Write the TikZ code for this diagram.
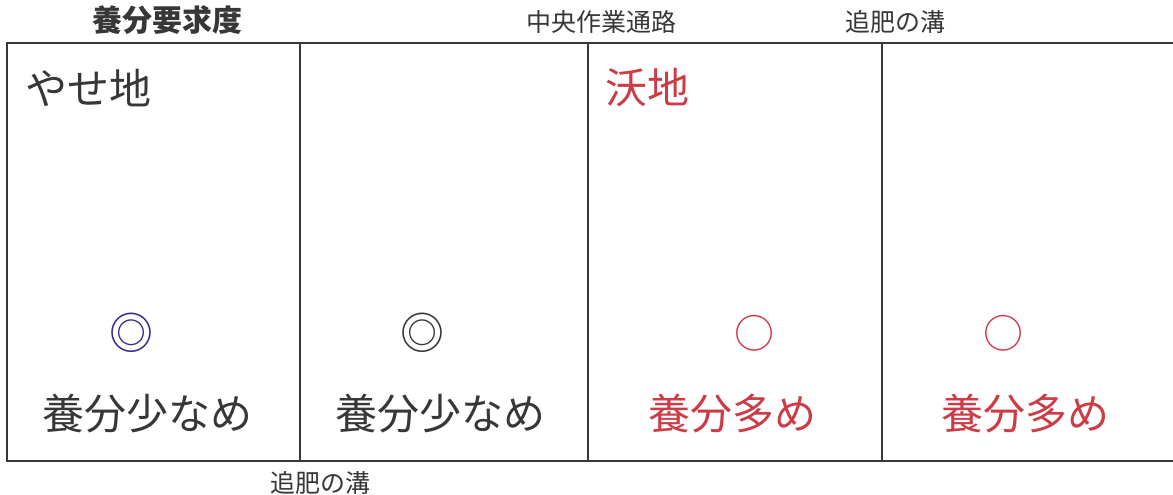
\documentclass[tikz,border=0pt]{standalone}
\usepackage{fontspec}
\newfontfamily\jp{Noto Sans CJK JP}
\definecolor{ink}{RGB}{55,55,55}
\definecolor{redink}{RGB}{205,60,70}
\definecolor{navy}{RGB}{55,45,135}
\begin{document}
\begin{tikzpicture}[x=1pt,y=-1pt,
  lbl/.style={inner sep=0pt,font=\jp,text=ink},
  big/.style={lbl,font=\jp\fontsize{42}{44}\selectfont},
  mid/.style={lbl,font=\jp\fontsize{42}{44}\selectfont},
  small/.style={lbl,font=\jp\fontsize{25}{28}\selectfont},
  symb/.style={lbl,font=\jp\fontsize{42}{44}\selectfont},
  frame/.style={draw=ink,line width=1.4pt}]
\useasboundingbox (0,0) rectangle (1173,495);
% frame
\coordinate (tl) at (7,43);
\coordinate (tr) at (1173,43);
\coordinate (bl) at (7,461);
\coordinate (br) at (1173,461);
\draw[frame] (tr) -- (tl) -- (bl) -- (br);
\coordinate (d1t) at (300,43); \coordinate (d1b) at (300,461);
\coordinate (d2t) at (588,43); \coordinate (d2b) at (588,461);
\coordinate (d3t) at (882,43); \coordinate (d3b) at (882,461);
\draw[frame,line width=1.1pt] (d1t) -- (d1b);
\draw[frame,line width=1.1pt] (d2t) -- (d2b);
\draw[frame,line width=1.1pt] (d3t) -- (d3b);
% headings
\node[lbl,font=\jp\bfseries\fontsize{30}{32}\selectfont] (t1) at (167,20) {養分要求度};
\node[small] (t2) at (601,22) {中央作業通路};
\node[small] (t3) at (895,22) {追肥の溝};
\node[small] (t4) at (320,483) {追肥の溝};
% field labels
\node[big,anchor=west] (yase) at (25,88) {やせ地};
\node[big,anchor=west,text=redink] (yoku) at (605,88) {沃地};
% marks
\node[symb,font=\jp\fontsize{44}{46}\selectfont,text=navy] (m1) at (131,333) {◎};
\node[symb,font=\jp\fontsize{44}{46}\selectfont] (m2) at (422,333) {◎};
\node[symb,font=\jp\fontsize{40}{42}\selectfont,text=redink] (m3) at (754,333) {○};
\node[symb,font=\jp\fontsize{40}{42}\selectfont,text=redink] (m4) at (1003,333) {○};
% bottom labels
\node[mid] (b1) at (147,414) {養分少なめ};
\node[mid] (b2) at (440,414) {養分少なめ};
\node[mid,text=redink] (b3) at (732,414) {養分多め};
\node[mid,text=redink] (b4) at (1025,414) {養分多め};
\end{tikzpicture}
\end{document}
